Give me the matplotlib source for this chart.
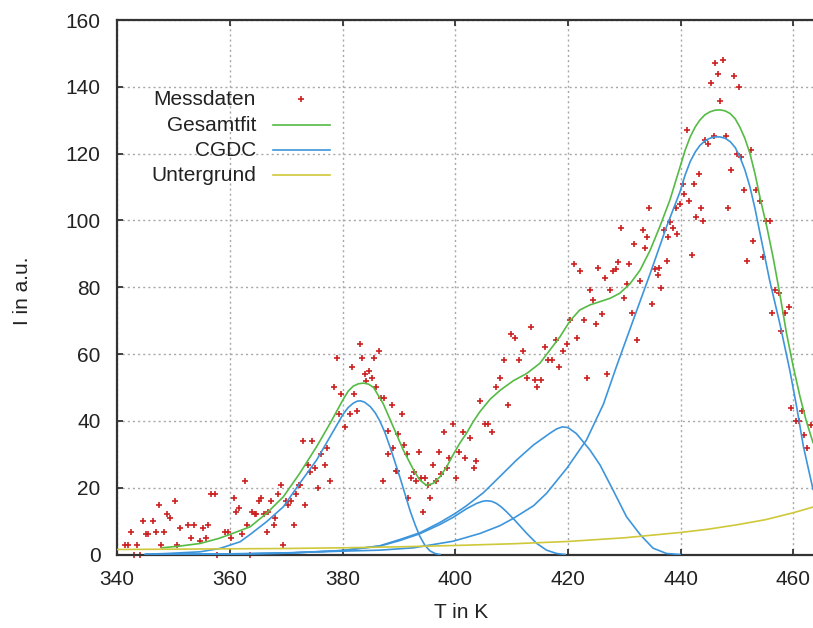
import matplotlib
matplotlib.use("Agg")
import matplotlib.pyplot as plt

# ---------------------------------------------------------------------------
# Messdaten: glow curve measurement (T in K, intensity in a.u.)
# ---------------------------------------------------------------------------
mess_T = [
    341.4, 342.0, 342.4, 342.9, 343.6, 344.1, 344.5, 345.1, 345.5, 346.4,
    346.9, 347.4, 347.8, 348.3, 348.8, 349.3, 350.2, 350.7, 351.2, 352.6,
    353.1, 353.6, 354.7, 355.2, 355.7, 356.2, 356.6, 357.4, 357.8, 359.2,
    359.7, 360.2, 360.7, 361.1, 361.6, 362.1, 362.6, 363.0, 363.5, 364.0,
    364.5, 364.7, 365.2, 365.6, 366.1, 366.6, 366.8, 367.3, 367.8, 368.0,
    368.5, 369.0, 369.4, 369.9, 370.4, 370.8, 371.3, 371.8, 372.3, 372.5,
    373.0, 373.4, 373.9, 374.2, 374.6, 375.1, 375.6, 376.1, 376.8, 377.2,
    377.7, 378.5, 379.1, 379.4, 379.8, 380.5, 381.3, 381.6, 382.1, 382.6,
    383.1, 383.5, 384.0, 384.2, 384.7, 385.2, 385.6, 385.9, 386.4, 386.9,
    387.1, 387.4, 388.0, 388.1, 388.7, 388.9, 389.4, 389.7, 389.8, 390.6,
    390.9, 391.4, 391.6, 392.1, 392.6, 393.0, 393.5, 394.0, 394.2, 394.7,
    395.2, 395.6, 396.1, 396.6, 397.1, 397.5, 398.0, 398.5, 398.9, 399.6,
    400.2, 400.6, 401.4, 401.8, 402.6, 403.3, 403.7, 404.4, 405.2, 405.9,
    406.6, 407.3, 408.0, 408.7, 409.4, 409.9, 410.6, 411.3, 412.0, 412.7,
    413.4, 414.1, 414.6, 415.3, 416.0, 416.5, 417.2, 417.9, 418.5, 419.2,
    419.9, 420.4, 421.1, 421.6, 422.1, 422.8, 423.3, 424.0, 424.4, 424.9,
    425.4, 426.1, 426.6, 427.0, 427.5, 428.0, 428.5, 428.9, 429.4, 429.9,
    430.4, 430.8, 431.4, 431.8, 432.3, 432.8, 433.3, 433.7, 434.0, 434.4,
    434.9, 435.4, 435.9, 436.1, 436.6, 437.0, 437.5, 437.7, 438.2, 438.7,
    439.2, 439.4, 439.9, 440.4, 440.6, 441.1, 441.5, 442.0, 442.3, 442.8,
    443.2, 443.7, 444.0, 444.4, 444.9, 445.4, 445.9, 446.1, 446.6, 447.0,
    447.5, 448.0, 448.5, 448.9, 449.4, 450.0, 450.3, 450.8, 451.3, 451.8,
    452.5, 452.9, 453.4, 454.1, 454.6, 455.1, 455.8, 456.3, 456.7, 457.5,
    457.9, 458.6, 459.2, 459.6, 460.5, 461.0, 461.5, 461.9, 462.5, 463.1,
]
mess_I = [
    2.8, 2.8, 6.8, 0.0, 2.8, 0.0, 10.0, 6.0, 6.0, 10.0,
    6.8, 14.8, 2.8, 6.8, 12.0, 10.8, 16.0, 2.8, 8.0, 8.8,
    4.8, 8.8, 4.0, 8.0, 4.8, 8.8, 18.0, 18.0, 0.0, 6.8,
    6.8, 4.8, 16.8, 12.8, 14.0, 6.0, 22.0, 8.8, 0.0, 12.8,
    12.0, 12.0, 16.0, 16.8, 12.0, 6.8, 12.8, 16.0, 8.8, 10.8,
    18.0, 20.8, 2.8, 16.0, 14.8, 16.0, 8.8, 18.0, 20.8, 20.8,
    34.0, 14.8, 26.8, 24.8, 34.0, 26.0, 20.0, 30.0, 26.8, 32.0,
    22.0, 50.1, 58.9, 42.2, 48.1, 38.2, 42.2, 56.1, 48.1, 43.0,
    62.9, 58.9, 54.1, 51.9, 54.9, 52.9, 58.9, 50.1, 60.9, 46.9,
    22.0, 46.9, 37.0, 30.0, 44.9, 32.0, 25.0, 25.0, 36.0, 42.0,
    32.8, 30.0, 16.8, 22.8, 24.8, 22.0, 30.8, 22.8, 12.8, 22.8,
    20.8, 16.8, 26.8, 22.0, 30.8, 24.0, 36.8, 26.0, 28.8, 39.0,
    22.8, 30.8, 36.8, 28.8, 34.8, 26.0, 28.0, 45.9, 39.0, 39.0,
    36.8, 50.1, 52.9, 58.1, 44.9, 66.1, 64.9, 58.1, 60.9, 52.9,
    68.1, 52.1, 50.1, 52.1, 62.1, 58.1, 58.1, 64.1, 56.1, 60.9,
    62.9, 70.1, 87.0, 64.9, 84.8, 70.1, 52.9, 79.1, 76.1, 68.9,
    85.8, 72.1, 82.9, 54.1, 79.1, 84.8, 85.6, 87.6, 97.8, 76.9,
    80.9, 87.0, 72.2, 93.0, 64.2, 81.8, 97.0, 91.8, 95.0, 103.8,
    74.9, 85.6, 83.6, 85.8, 79.8, 97.0, 87.8, 95.0, 99.4, 97.8,
    103.8, 95.8, 105.0, 111.0, 107.8, 127.0, 105.8, 89.8, 111.0, 101.0,
    114.0, 103.8, 99.8, 124.0, 123.0, 141.1, 125.2, 147.1, 143.9, 135.9,
    147.9, 125.2, 103.8, 115.0, 143.1, 119.8, 139.9, 119.0, 109.0, 87.8,
    121.0, 93.8, 109.0, 105.8, 89.0, 99.8, 99.8, 72.2, 79.1, 78.3,
    66.9, 72.2, 74.1, 43.9, 39.9, 39.9, 42.9, 35.9, 32.0, 38.9,
]

# ---------------------------------------------------------------------------
# Gesamtfit: total fit
# ---------------------------------------------------------------------------
fit_T = [347.9, 351.0, 354.7, 358.0, 360.0, 363.6, 366.5, 369.5, 372.4, 375.4,
         377.8, 380.1, 381.0, 381.9, 382.8, 383.7, 384.6, 385.5, 387.2, 389.0,
         390.8, 392.6, 393.7, 394.9, 396.1, 397.3, 398.5, 399.6, 400.8, 402.0,
         403.2, 404.4, 406.2, 408.0, 410.3, 412.7, 415.0, 416.8, 418.6, 420.4,
         422.1, 423.9, 425.7, 427.5, 429.2, 431.0, 432.8, 434.6, 436.3, 438.1,
         439.9, 440.8, 441.7, 442.6, 443.4, 444.3, 445.2, 446.1, 447.0, 447.9,
         448.8, 449.7, 450.5, 451.4, 452.3, 453.2, 454.1, 455.3, 456.4, 457.6,
         458.8, 460.0, 461.2, 462.3, 463.5]
fit_I = [2.0, 2.5, 3.3, 4.8, 6.0, 8.3, 12.3, 17.3, 24.3, 32.3,
         39.3, 46.4, 48.9, 50.4, 51.1, 51.3, 51.0, 50.0, 45.2, 38.2,
         31.2, 25.3, 22.3, 20.7, 21.3, 23.3, 26.3, 29.8, 33.3, 36.3,
         39.8, 42.8, 46.5, 49.2, 52.0, 54.2, 57.2, 61.2, 65.2, 70.0,
         73.2, 74.7, 75.7, 76.7, 78.2, 81.0, 85.1, 91.1, 98.1, 106.1,
         116.0, 121.0, 125.0, 128.0, 130.0, 131.6, 132.5, 133.0, 133.1, 132.8,
         132.0, 130.4, 128.0, 124.6, 120.1, 114.0, 106.8, 98.1, 89.1, 78.1,
         66.2, 56.2, 47.2, 40.0, 33.5]

# ---------------------------------------------------------------------------
# CGDC: individual deconvoluted glow peaks
# ---------------------------------------------------------------------------
p1_T = [345.2, 348.8, 354.7, 358.2, 361.8, 363.6, 366.5, 369.5, 372.4, 375.4,
        377.8, 380.1, 381.0, 381.9, 382.6, 383.2, 383.9, 384.9, 385.8, 386.6,
        387.5, 388.4, 389.3, 390.2, 391.1, 392.0, 392.9, 393.7, 394.6, 395.5,
        396.4, 397.3]
p1_I = [0.1, 0.3, 0.8, 1.8, 3.8, 6.0, 9.8, 14.3, 21.3, 28.3,
        35.3, 42.0, 44.0, 45.3, 45.9, 46.0, 45.6, 44.3, 42.4, 40.0,
        36.6, 32.3, 27.7, 23.0, 18.0, 13.0, 8.8, 5.5, 2.8, 1.1,
        0.3, 0.0]

p2_T = [345.0, 360.0, 370.0, 380.0, 386.6, 390.2, 393.7, 397.3, 399.7, 402.0,
        403.8, 404.8, 405.6, 406.5, 407.3, 408.2, 409.1, 410.6, 412.7, 414.4,
        416.2, 418.0, 419.5]
p2_I = [0.0, 0.1, 0.4, 1.2, 2.5, 4.2, 6.2, 9.0, 11.2, 13.7,
        15.3, 15.9, 16.1, 15.9, 15.3, 14.2, 12.8, 10.2, 6.3, 3.4,
        1.3, 0.3, 0.0]

p3_T = [345.0, 360.0, 370.0, 380.0, 386.6, 390.2, 393.7, 397.3, 400.0, 402.0,
        405.0, 407.9, 410.9, 413.9, 416.8, 418.0, 419.0, 420.0, 421.5, 423.9,
        425.7, 428.0, 430.4, 432.8, 435.1, 437.5, 439.9]
p3_I = [0.0, 0.1, 0.4, 1.2, 2.6, 4.5, 6.5, 9.6, 12.3, 14.6,
        18.5, 23.3, 28.3, 32.8, 36.3, 37.6, 38.2, 38.0, 36.2, 31.3,
        26.8, 19.3, 11.3, 6.0, 1.9, 0.3, 0.0]

p4_T = [345.0, 360.0, 370.0, 380.0, 386.6, 392.6, 399.7, 404.4, 407.9, 410.3,
        413.9, 416.2, 419.8, 423.3, 426.3, 428.6, 431.6, 434.6, 437.5, 439.9,
        440.8, 441.7, 442.6, 443.4, 444.3, 445.2, 446.1, 447.0, 447.9, 448.8,
        449.7, 450.5, 451.4, 452.3, 453.2, 454.1, 455.8, 457.6, 459.4, 460.6,
        461.8, 463.5]
p4_I = [0.0, 0.2, 0.5, 1.0, 1.3, 2.0, 4.0, 6.3, 8.6, 10.8,
        14.6, 18.3, 25.8, 34.3, 45.0, 56.2, 70.2, 84.1, 98.1, 108.6,
        113.6, 117.6, 120.5, 122.4, 123.8, 124.6, 125.0, 125.0, 124.6, 123.6,
        121.8, 119.1, 115.2, 110.1, 103.6, 96.1, 82.1, 69.2, 55.0, 44.2,
        32.3, 19.5]

# ---------------------------------------------------------------------------
# Untergrund: background
# ---------------------------------------------------------------------------
bg_T = [340, 350, 360, 370, 380, 390, 400, 410, 420, 430, 440, 445, 450,
        455, 460, 463.5]
bg_I = [1.5, 1.6, 1.7, 1.8, 2.0, 2.3, 2.7, 3.2, 3.9, 5.0, 6.6, 7.6, 8.9,
        10.4, 12.5, 14.2]

x_ticks = [340, 360, 380, 400, 420, 440, 460]
y_ticks = [0, 20, 40, 60, 80, 100, 120, 140, 160]
legend_labels = ["Messdaten", "Gesamtfit", "CGDC", "Untergrund"]

RED = "#cc2020"
GREEN = "#55bb44"
BLUE = "#3d95dc"
YELLOW = "#cfc83a"

plt.rcParams["font.family"] = ["Liberation Sans", "DejaVu Sans"]

W, H = 813, 628
fig = plt.figure(figsize=(W / 100, H / 100), dpi=100)
left_px, right_px, top_px, bottom_px = 117.2, 813.0, 20.0, 554.5
ax = fig.add_axes([left_px / W, 1 - bottom_px / H,
                   (right_px - left_px) / W, (bottom_px - top_px) / H])

ax.set_xlim(340, 463.5)
ax.set_ylim(0, 160)

ax.plot(mess_T, mess_I, linestyle="none", marker="+", color=RED,
        markersize=5, markeredgewidth=1.2, clip_on=False, zorder=2)
ax.plot(fit_T, fit_I, color=GREEN, lw=1.2, zorder=3)
for tt, ii in [(p1_T, p1_I), (p2_T, p2_I), (p3_T, p3_I), (p4_T, p4_I)]:
    ax.plot(tt, ii, color=BLUE, lw=1.2, zorder=3)
ax.plot(bg_T, bg_I, color=YELLOW, lw=1.2, zorder=3)

# axes frame, ticks and grid
ax.set_xticks(x_ticks)
ax.set_yticks(y_ticks)
ax.grid(True, color="#a8a8a8", linestyle=(0, (1.5, 2.2)), linewidth=1.0)
ax.set_axisbelow(True)
for side in ["left", "bottom", "top"]:
    ax.spines[side].set_color("#333333")
    ax.spines[side].set_linewidth(1.6)
ax.spines["right"].set_visible(False)
ax.tick_params(axis="both", direction="in", length=4.5, width=1.3,
               color="#333333", labelsize=15, labelcolor="#222222",
               top=True, right=False)
ax.tick_params(axis="y", pad=12)
ax.tick_params(axis="x", pad=11)

fig.text(22 / W, 1 - 291 / H, "I in a.u.", rotation=90, ha="center",
         va="center", fontsize=15, color="#222222")
fig.text(461 / W, 1 - 612 / H, "T in K", ha="center", va="center",
         fontsize=15, color="#222222")

# key: right-aligned labels with sample to the right
def px_to_axes(px, py):
    return ((px - left_px) / (right_px - left_px),
            (bottom_px - py) / (bottom_px - top_px))

rows_py = [99, 125, 150, 175]
styles = [("marker", RED), ("line", GREEN), ("line", BLUE), ("line", YELLOW)]
for label, py, (kind, col) in zip(legend_labels, rows_py, styles):
    tx, ty = px_to_axes(256, py)
    ax.text(tx, ty, label, transform=ax.transAxes, ha="right", va="center",
            fontsize=15, color="#222222")
    x0, _ = px_to_axes(273, py)
    x1, _ = px_to_axes(330, py)
    if kind == "marker":
        xm, _ = px_to_axes(301, py)
        ax.plot([xm], [ty], transform=ax.transAxes, linestyle="none",
                marker="+", color=col, markersize=5, markeredgewidth=1.2)
    else:
        ax.plot([x0, x1], [ty, ty], transform=ax.transAxes, color=col,
                lw=1.2)

fig.savefig("out.png", dpi=100)
